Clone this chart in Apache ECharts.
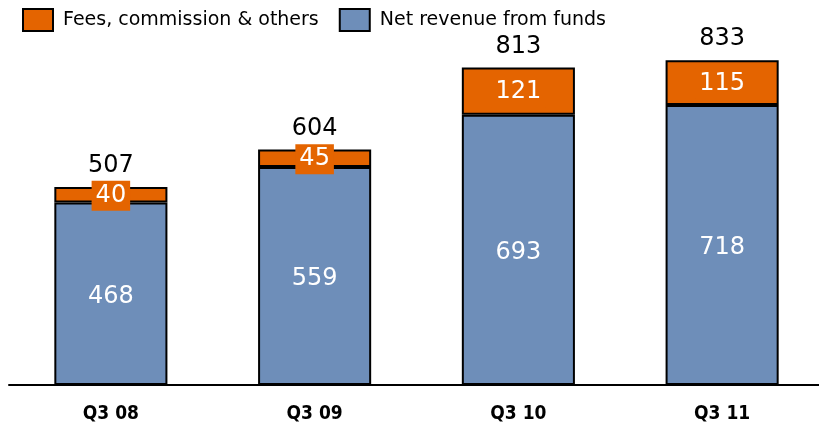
<!DOCTYPE html>
<html>
<head>
<meta charset="utf-8">
<script src="https://cdn.jsdelivr.net/npm/echarts@6/dist/echarts.min.js"></script>
<style>
  html, body { margin: 0; padding: 0; background: #fff; }
  #chart { width: 819px; height: 432px; }
</style>
</head>
<body>
<div id="chart"></div>
<script>
// data
const categories = ['Q3 08', 'Q3 09', 'Q3 10', 'Q3 11']
const netRevenue = [468, 559, 693, 718]
const fees = [40, 45, 121, 115]
const totals = [507, 604, 813, 833]

const ORANGE = '#e46400'
const BLUE = '#6e8eb9'
const FONT = 'DejaVu Sans'

const chart = echarts.init(document.getElementById('chart'))

chart.setOption({
  backgroundColor: '#fff',
  animation: false,
  legend: {
    left: 17,
    top: 3,
    icon: 'rect',
    itemWidth: 30,
    itemHeight: 22,
    itemGap: 20,
    itemStyle: { borderColor: '#000', borderWidth: 2 },
    textStyle: { fontFamily: FONT, fontSize: 19, color: '#000', padding: [0, 0, 0, 5] },
    data: ['Fees, commission & others', 'Net revenue from funds']
  },
  grid: { left: 9, width: 815, top: 34, bottom: 47, outerBoundsMode: 'none', containLabel: false },
  xAxis: {
    type: 'category',
    data: categories,
    axisLine: { lineStyle: { color: '#000', width: 2 } },
    axisTick: { show: false },
    axisLabel: {
      margin: 20,
      fontFamily: 'DejaVu Sans Condensed',
      fontWeight: 'bold',
      fontSize: 19,
      color: '#000'
    }
  },
  yAxis: {
    type: 'value',
    min: 0,
    max: 900,
    show: false
  },
  series: [
    {
      name: 'Net revenue from funds',
      type: 'bar',
      stack: 'rev',
      barWidth: '55.5%',
      data: netRevenue,
      itemStyle: { color: BLUE, borderColor: '#000', borderWidth: 2 },
      label: {
        show: true,
        position: 'inside',
        offset: [0, 3],
        fontFamily: FONT,
        fontSize: 24,
        color: '#fff'
      }
    },
    {
      name: 'Fees, commission & others',
      type: 'bar',
      stack: 'rev',
      data: fees,
      itemStyle: { color: ORANGE, borderColor: '#000', borderWidth: 2 },
      label: {
        show: true,
        position: 'inside',
        offset: [0, 1],
        fontFamily: FONT,
        fontSize: 24,
        color: '#fff',
        backgroundColor: ORANGE,
        padding: [4, 4, 2, 4]
      }
    },
    {
      // invisible bar used only to put the total on top of each stack
      name: 'total',
      type: 'bar',
      stack: 'rev',
      data: totals.map(() => 0),
      itemStyle: { color: 'transparent' },
      label: {
        show: true,
        position: 'top',
        distance: 9,
        fontFamily: FONT,
        fontSize: 24,
        color: '#000',
        formatter: (p) => totals[p.dataIndex]
      }
    }
  ]
})
</script>
</body>
</html>
